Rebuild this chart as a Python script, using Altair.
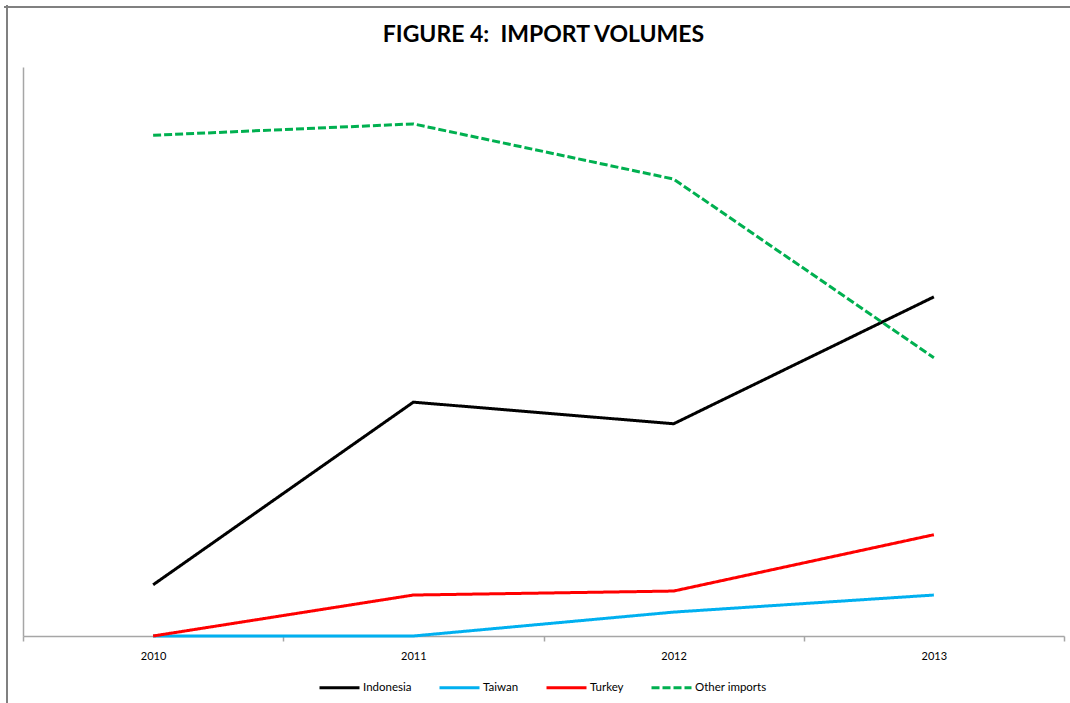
import altair as alt
import pandas as pd

years = ["2010", "2011", "2012", "2013"]
series_names = ["Indonesia", "Taiwan", "Turkey", "Other imports"]
indonesia = [9.0, 41.1, 37.3, 59.6]
taiwan = [0.0, 0.0, 4.2, 7.2]
turkey = [0.0, 7.2, 7.9, 17.8]
other_imports = [88.0, 90.0, 80.3, 48.9]
colors = ["#000000", "#00B0F0", "#FF0000", "#00B050"]
dashes = [[1, 0], [1, 0], [1, 0], [8, 3]]

rows = []
for name, vals in zip(series_names, [indonesia, taiwan, turkey, other_imports]):
    for y, v in zip(years, vals):
        rows.append({"Year": y, "Series": name, "Value": v})
df = pd.DataFrame(rows)

W, H = 1041, 569

legend_opts = dict(title=None, orient="none", direction="horizontal",
                   legendX=295, legendY=599,
                   symbolType="stroke", symbolSize=1600,
                   symbolStrokeWidth=3, labelFontSize=11.5,
                   labelFont="Lato", labelColor="#000000",
                   labelOffset=2, columnPadding=21)

lines = alt.Chart(df).mark_line(strokeWidth=3, clip=False).encode(
    x=alt.X("Year:O", sort=years,
            scale=alt.Scale(type="band", paddingInner=0, paddingOuter=0),
            axis=alt.Axis(title=None, labelAngle=0, tickBand="extent", tickSize=5,
                          labelPadding=9, labelFontSize=11, labelFont="Lato",
                          labelColor="#000000", domainColor="#A6A6A6",
                          tickColor="#A6A6A6", domainWidth=1.5, tickWidth=1.5,
                          grid=False)),
    y=alt.Y("Value:Q", scale=alt.Scale(domain=[0, 100], nice=False, zero=True),
            axis=alt.Axis(title=None, labels=False, ticks=False, grid=False,
                          domainColor="#A6A6A6", domainWidth=1.5)),
    color=alt.Color("Series:N", sort=series_names,
                    scale=alt.Scale(domain=series_names, range=colors),
                    legend=alt.Legend(**legend_opts)),
    strokeDash=alt.StrokeDash("Series:N", sort=series_names,
                              scale=alt.Scale(domain=series_names, range=dashes),
                              legend=alt.Legend(**legend_opts)),
)

frame_top = alt.Chart(df).mark_rule(color="#808080", strokeWidth=1.5, clip=False).encode(
    x=alt.value(-19), x2=alt.value(1060), y=alt.value(-60)
)
frame_left = alt.Chart(df).mark_rule(color="#808080", strokeWidth=1.5, clip=False).encode(
    x=alt.value(-16), y=alt.value(-62), y2=alt.value(650)
)

chart = alt.layer(lines, frame_top, frame_left).properties(
    width=W, height=H,
    title=alt.TitleParams("FIGURE 4:\u00a0 IMPORT VOLUMES", font="Lato", fontSize=23,
                          fontWeight="bold", color="#000000", anchor="middle",
                          baseline="alphabetic", offset=-61),
    padding={"left": 23, "top": 67, "right": 6, "bottom": 67},
    autosize=alt.AutoSizeParams(type="none"),
    background="white",
).configure_view(stroke=None)

chart.save("out.html", embed_options={"renderer": "svg", "actions": False})
